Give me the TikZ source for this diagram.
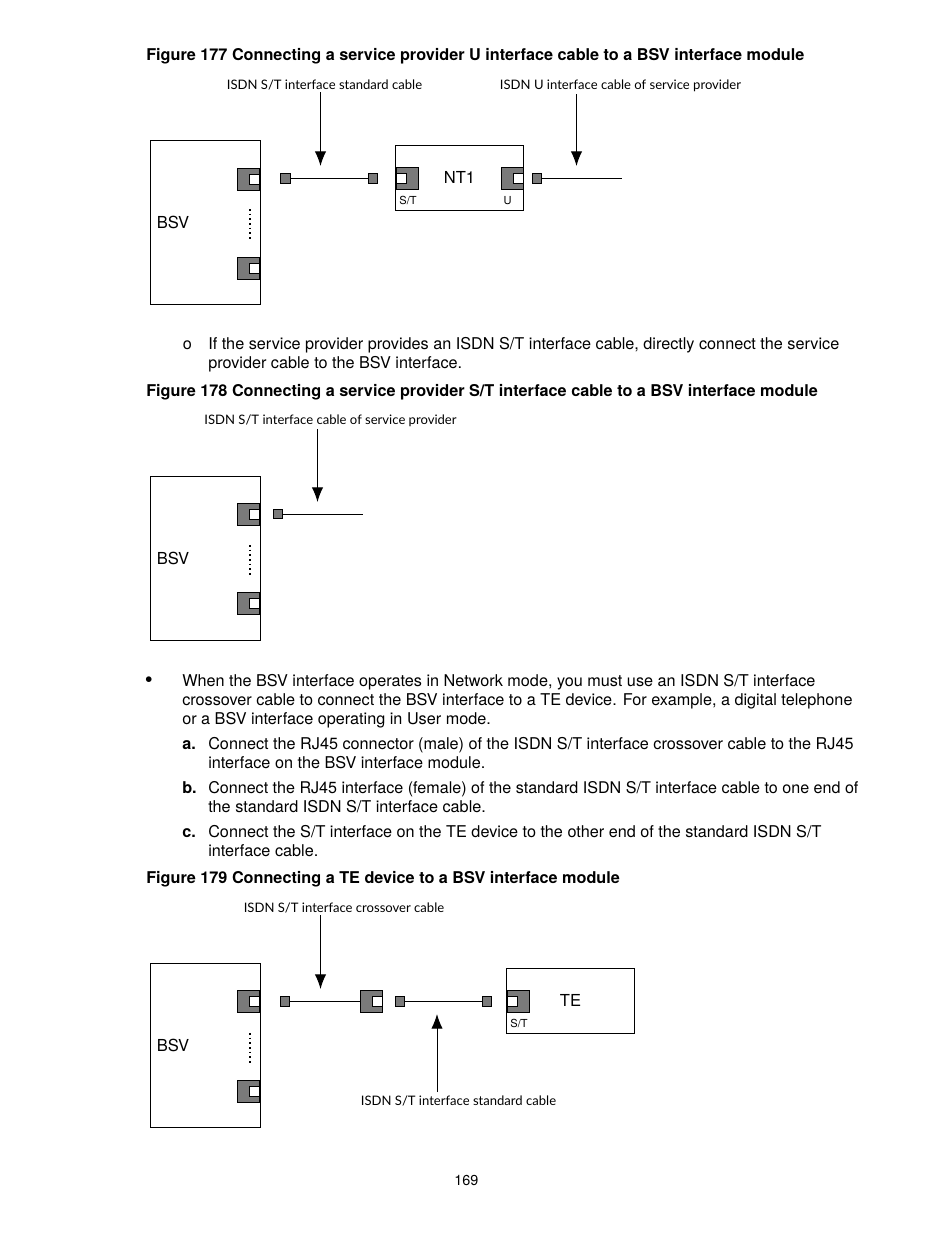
\documentclass[tikz,border=0pt]{standalone}
\usepackage{fontspec}
\setmainfont{TeX Gyre Heros}
\newfontfamily\labelfont{Lato}
\usetikzlibrary{arrows.meta,positioning,calc}

\tikzset{
  body/.style={anchor=base west,inner sep=0pt,font=\fontsize{12.17pt}{14pt}\selectfont},
  head/.style={anchor=base west,inner sep=0pt,font=\fontsize{12.17pt}{14pt}\selectfont\bfseries},
  callout/.style={inner sep=0pt,font=\labelfont\fontsize{9.8pt}{11pt}\selectfont},
  module/.style={draw,fill=white,line width=0.75pt,inner sep=0pt,minimum width=82pt,minimum height=123pt,text width=73pt,align=left,font=\fontsize{12.4pt}{14pt}\selectfont},
  box/.style={draw,fill=white,line width=0.75pt,inner sep=0pt,minimum width=96pt,minimum height=49pt},
  port/.style={draw,fill=black!52,line width=0.75pt,inner sep=0pt,minimum size=16.5pt},
  hole/.style={draw,fill=white,line width=0.75pt,inner sep=0pt,minimum size=7.5pt},
  plug/.style={draw,fill=black!52,line width=0.6pt,inner sep=0pt,minimum size=7pt},
  cable/.style={line width=0.6pt},
  pointer/.style={line width=0.75pt,-{Latex[length=11pt,width=8.5pt]}},
  dots/.style={line width=1.5pt,dash pattern=on 1.3pt off 2.2pt},
  portname/.style={inner sep=0pt,font=\fontsize{8.3pt}{9pt}\selectfont},
  boxname/.style={inner sep=0pt,font=\fontsize{12.4pt}{14pt}\selectfont}
}

\begin{document}
\begin{tikzpicture}[x=0.75pt,y=-0.75pt]
\useasboundingbox (0,0) rectangle (950,1258);

% figure 177
\node[head] (headA) at (146,60) {Figure 177 Connecting a service provider U interface cable to a BSV interface module};
\node[module] (bsvA) at (205.5,222) {BSV};
\node[port,anchor=east] (portA) at (260.3,179) {};
\node[hole,anchor=east] (holeA) at (260.3,179) {};
\node[port,anchor=east] (portB) at (260.3,268) {};
\node[hole,anchor=east] (holeB) at (260.3,268) {};
\draw[dots] (249.5,209) -- (249.5,239);

\node[callout] (stdA) at (324.5,85) {ISDN S/T interface standard cable};
\node[callout] (provA) at (620.5,86) {ISDN U interface cable of service provider};
\node[plug] (plugA) at (285.3,178.5) {};
\node[plug] (plugB) at (372.7,178.5) {};
\draw[cable] (plugA) -- (plugB);
\coordinate (tipA) at (320.5,166);
\draw[pointer] (tipA |- stdA.south) ++(0,2) -- (tipA);

\node[box] (ntone) at (459.75,178.25) {};
\node[boxname] (ntonetext) at (459.5,177.5) {NT1};
\node[port,anchor=west] (portC) at (395.7,178.5) {};
\node[hole,anchor=west] (holeC) at (395.7,178.5) {};
\node[port,anchor=east] (portD) at (524,178.5) {};
\node[hole,anchor=east] (holeD) at (524,178.5) {};
\node[portname] (stA) at (408,200.5) {S/T};
\node[portname] (uA) at (507.5,200.5) {U};
\node[plug] (plugC) at (537,178.5) {};
\coordinate (endA) at (621.5,178.5);
\draw[cable] (plugC) -- (endA);
\coordinate (tipB) at (576.5,166);
\draw[pointer] (tipB |- provA.south) ++(0,2) -- (tipB);

\node[body] (bulA) at (182.5,349.5) {o};
\node[body] (paraA) at (208,349) {If the service provider provides an ISDN S/T interface cable, directly connect the service};
\node[body] (paraB) at (208,368) {provider cable to the BSV interface.};

% figure 178
\node[head] (headB) at (146,396) {Figure 178 Connecting a service provider S/T interface cable to a BSV interface module};
\node[callout] (provB) at (330.5,421) {ISDN S/T interface cable of service provider};
\node[module] (bsvB) at (205.5,558) {BSV};
\node[port,anchor=east] (portE) at (260.3,514) {};
\node[hole,anchor=east] (holeE) at (260.3,514) {};
\node[port,anchor=east] (portF) at (260.3,603) {};
\node[hole,anchor=east] (holeF) at (260.3,603) {};
\draw[dots] (249.5,545) -- (249.5,575);
\node[plug] (plugD) at (278,514) {};
\coordinate (endB) at (362.5,514);
\draw[cable] (plugD) -- (endB);
\coordinate (tipC) at (317.5,502);
\draw[pointer] (tipC |- provB.south) ++(0,2) -- (tipC);

\node[body,font=\fontsize{17pt}{17pt}\selectfont] (bulB) at (144.5,687) {\textbullet};
\node[body] (paraC) at (182,686) {When the BSV interface operates in Network mode, you must use an ISDN S/T interface};
\node[body] (paraD) at (182,705) {crossover cable to connect the BSV interface to a TE device. For example, a digital telephone};
\node[body] (paraE) at (182,724) {or a BSV interface operating in User mode.};
\node[body] (letA) at (182,749) {\textbf{a.}};
\node[body] (paraF) at (208,749) {Connect the RJ45 connector (male) of the ISDN S/T interface crossover cable to the RJ45};
\node[body] (paraG) at (208,768) {interface on the BSV interface module.};
\node[body] (letB) at (182,793) {\textbf{b.}};
\node[body,font=\fontsize{12.08pt}{14pt}\selectfont] (paraH) at (208,793) {Connect the RJ45 interface (female) of the standard ISDN S/T interface cable to one end of};
\node[body] (paraI) at (208,812) {the standard ISDN S/T interface cable.};
\node[body] (letC) at (182,837) {\textbf{c.}};
\node[body] (paraJ) at (208,837) {Connect the S/T interface on the TE device to the other end of the standard ISDN S/T};
\node[body] (paraK) at (208,856) {interface cable.};

% figure 179
\node[head] (headC) at (146,883) {Figure 179 Connecting a TE device to a BSV interface module};
\node[callout] (crossA) at (344,908) {ISDN S/T interface crossover cable};
\node[module] (bsvC) at (205.5,1045.5) {BSV};
\node[port,anchor=east] (portG) at (260.3,1001.5) {};
\node[hole,anchor=east] (holeG) at (260.3,1001.5) {};
\node[port,anchor=east] (portH) at (260.3,1091) {};
\node[hole,anchor=east] (holeH) at (260.3,1091) {};
\draw[dots] (249.5,1033) -- (249.5,1063);
\node[plug] (plugE) at (285,1001.5) {};
\node[port,anchor=east] (portI) at (383.3,1001.5) {};
\node[hole,anchor=east] (holeI) at (383.3,1001.5) {};
\draw[line width=1.1pt] (plugE) -- (portI);
\coordinate (tipD) at (320.5,989);
\draw[pointer] (tipD |- crossA.south) ++(0,2) -- (tipD);

\node[plug] (plugF) at (399.7,1001.5) {};
\node[plug] (plugG) at (486.8,1001.5) {};
\draw[cable] (plugF) -- (plugG);
\node[callout] (stdB) at (458.5,1100.5) {ISDN S/T interface standard cable};
\coordinate (tipE) at (437,1014);
\draw[pointer] (tipE |- stdB.north) ++(0,-3) -- (tipE);

\node[box] (te) at (570.75,1001.25) {};
\node[boxname] (tetext) at (570.5,1000.5) {TE};
\node[port,anchor=west] (portJ) at (506.7,1001.5) {};
\node[hole,anchor=west] (holeJ) at (506.7,1001.5) {};
\node[portname] (stB) at (519,1023) {S/T};

\node[body,font=\fontsize{10.8pt}{14pt}\selectfont] (pagenum) at (454,1185.5) {169};
\end{tikzpicture}
\end{document}
